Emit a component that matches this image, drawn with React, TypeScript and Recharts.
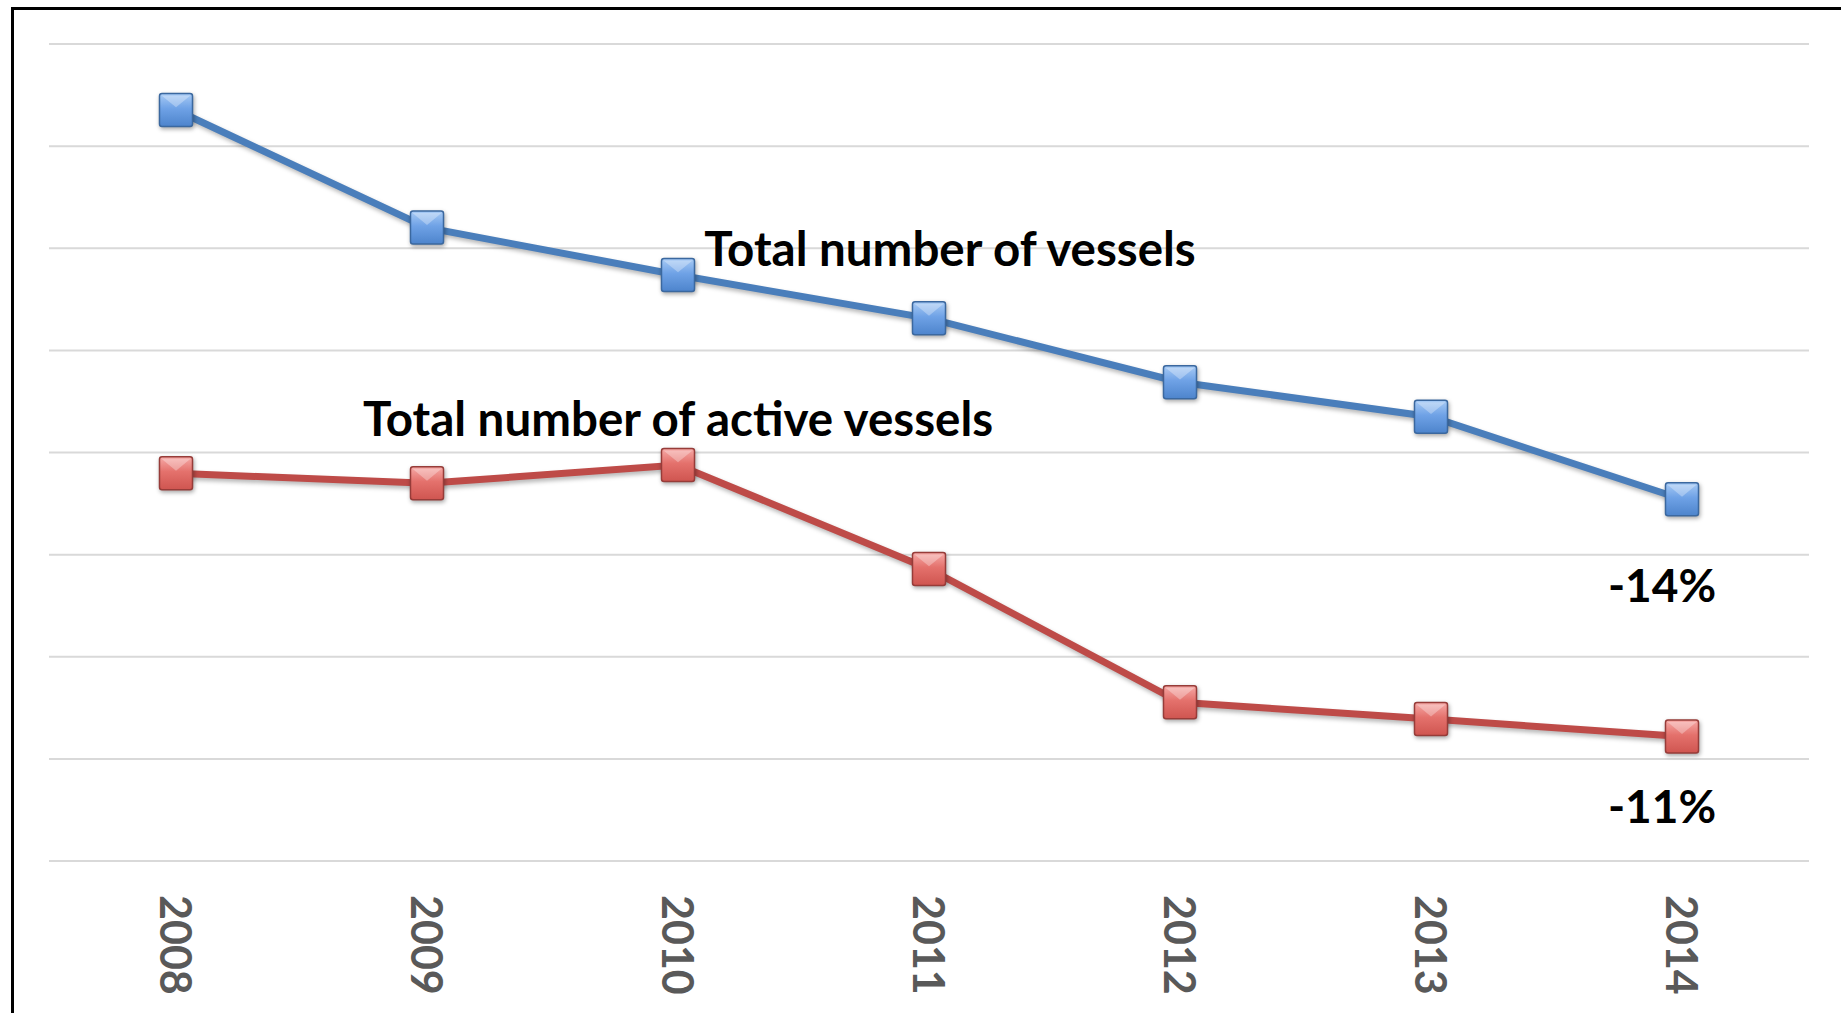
import React from 'react';
import { LineChart, Line, XAxis, YAxis, CartesianGrid, ReferenceDot } from 'recharts';

// Fleet size, 2008-2014
const YEARS = ['2008', '2009', '2010', '2011', '2012', '2013', '2014'];
const TOTAL_VESSELS = [13677, 13101, 12869, 12657, 12344, 12175, 11771];
const ACTIVE_VESSELS = [11898, 11849, 11939, 11430, 10777, 10695, 10609];
const Y_TICKS = [10000, 10500, 11000, 11500, 12000, 12500, 13000, 13500, 14000];

const data = YEARS.map((year, i) => ({
  year,
  total: TOTAL_VESSELS[i],
  active: ACTIVE_VESSELS[i],
}));

const FONT = 'Lato, "Open Sans", sans-serif';

const SquareDot = (colors: { id: string; light: string; mid: string; dark: string; edge: string }) =>
  (props: any) => {
    const { cx, cy, index } = props;
    if (cx == null || cy == null) return null;
    const s = 33;
    const x = cx - s / 2;
    const y = cy - s / 2;
    return (
      <g key={`${colors.id}-${index}`}>
        <defs>
          <linearGradient id={colors.id} x1="0" y1="0" x2="0" y2="1">
            <stop offset="0%" stopColor={colors.light} />
            <stop offset="45%" stopColor={colors.mid} />
            <stop offset="100%" stopColor={colors.dark} />
          </linearGradient>
        </defs>
        <rect
          x={x}
          y={y}
          width={s}
          height={s}
          rx={2.5}
          fill={`url(#${colors.id})`}
          stroke={colors.edge}
          strokeWidth={1.5}
          style={{ filter: 'drop-shadow(1px 2px 2px rgba(0,0,0,0.35))' }}
        />
        <path
          d={`M ${x + 2} ${y + 2} L ${x + s - 2} ${y + 2} L ${cx} ${y + s * 0.42} Z`}
          fill="#ffffff"
          opacity={0.3}
        />
      </g>
    );
  };

const blueDot = SquareDot({ id: 'grad-total', light: '#a8cbf5', mid: '#6fa2e6', dark: '#4d84cc', edge: '#3b689f' });
const redDot = SquareDot({ id: 'grad-active', light: '#f6aaa7', mid: '#e4716c', dark: '#cf5550', edge: '#973c39' });

const YearTick = (props: any) => {
  const { x, y, payload } = props;
  const ty = y + 34;
  return (
    <text
      x={x}
      y={ty}
      transform={`rotate(90, ${x}, ${ty})`}
      textAnchor="start"
      dominantBaseline="central"
      fontFamily={FONT}
      fontWeight={700}
      fontSize={43}
      fill="#595959"
    >
      {payload.value}
    </text>
  );
};

const note = (text: string, dx: number, size: number) => (props: any) => {
  const vb = props.viewBox || {};
  const cx = (vb.x ?? 0) + (vb.width ?? 0) / 2;
  const cy = (vb.y ?? 0) + (vb.height ?? 0) / 2;
  return (
    <text
      x={cx + dx}
      y={cy}
      textAnchor="middle"
      dominantBaseline="central"
      fontFamily={FONT}
      fontWeight={700}
      fontSize={size}
      fill="#000000"
    >
      {text}
    </text>
  );
};

export default function App() {
  return (
    <div style={{ position: 'absolute', left: 0, top: 0, width: 1841, height: 1013, overflow: 'hidden', background: '#fff' }}>
      <style>{`.recharts-line-curve { filter: drop-shadow(2px 3px 2px rgba(0,0,0,0.28)); }`}</style>
      <div
        style={{
          position: 'absolute',
          left: 11,
          top: 7,
          width: 1900,
          height: 1100,
          border: '3px solid #000',
          boxSizing: 'border-box',
        }}
      />
      <LineChart
        width={1841}
        height={1013}
        data={data}
        margin={{ top: 44, right: 32, bottom: 12, left: 49 }}
        style={{ position: 'absolute', left: 0, top: 0 }}
      >
        <CartesianGrid vertical={false} stroke="#d9d9d9" strokeWidth={2} />
        <YAxis hide domain={[10000, 14000]} ticks={Y_TICKS} />
        <XAxis
          dataKey="year"
          scale="point"
          padding={{ left: 127, right: 127 }}
          axisLine={false}
          tickLine={false}
          tickSize={0}
          tickMargin={0}
          height={140}
          interval={0}
          tick={<YearTick />}
        />
        <Line
          dataKey="total"
          stroke="#4a7ebb"
          strokeWidth={7}
          dot={blueDot}
          activeDot={false}
          isAnimationActive={false}
        />
        <Line
          dataKey="active"
          stroke="#be4b48"
          strokeWidth={7}
          dot={redDot}
          activeDot={false}
          isAnimationActive={false}
        />
        <ReferenceDot x="2011" y={13003} r={0} fill="none" stroke="none" label={{ content: note('Total number of vessels', 21, 47.5) }} />
        <ReferenceDot x="2010" y={12169} r={0} fill="none" stroke="none" label={{ content: note('Total number of active vessels', 0, 47.5) }} />
        <ReferenceDot x="2014" y={11353} r={0} fill="none" stroke="none" label={{ content: note('-14%', -20, 46) }} />
        <ReferenceDot x="2014" y={10272} r={0} fill="none" stroke="none" label={{ content: note('-11%', -20, 46) }} />
      </LineChart>
    </div>
  );
}
